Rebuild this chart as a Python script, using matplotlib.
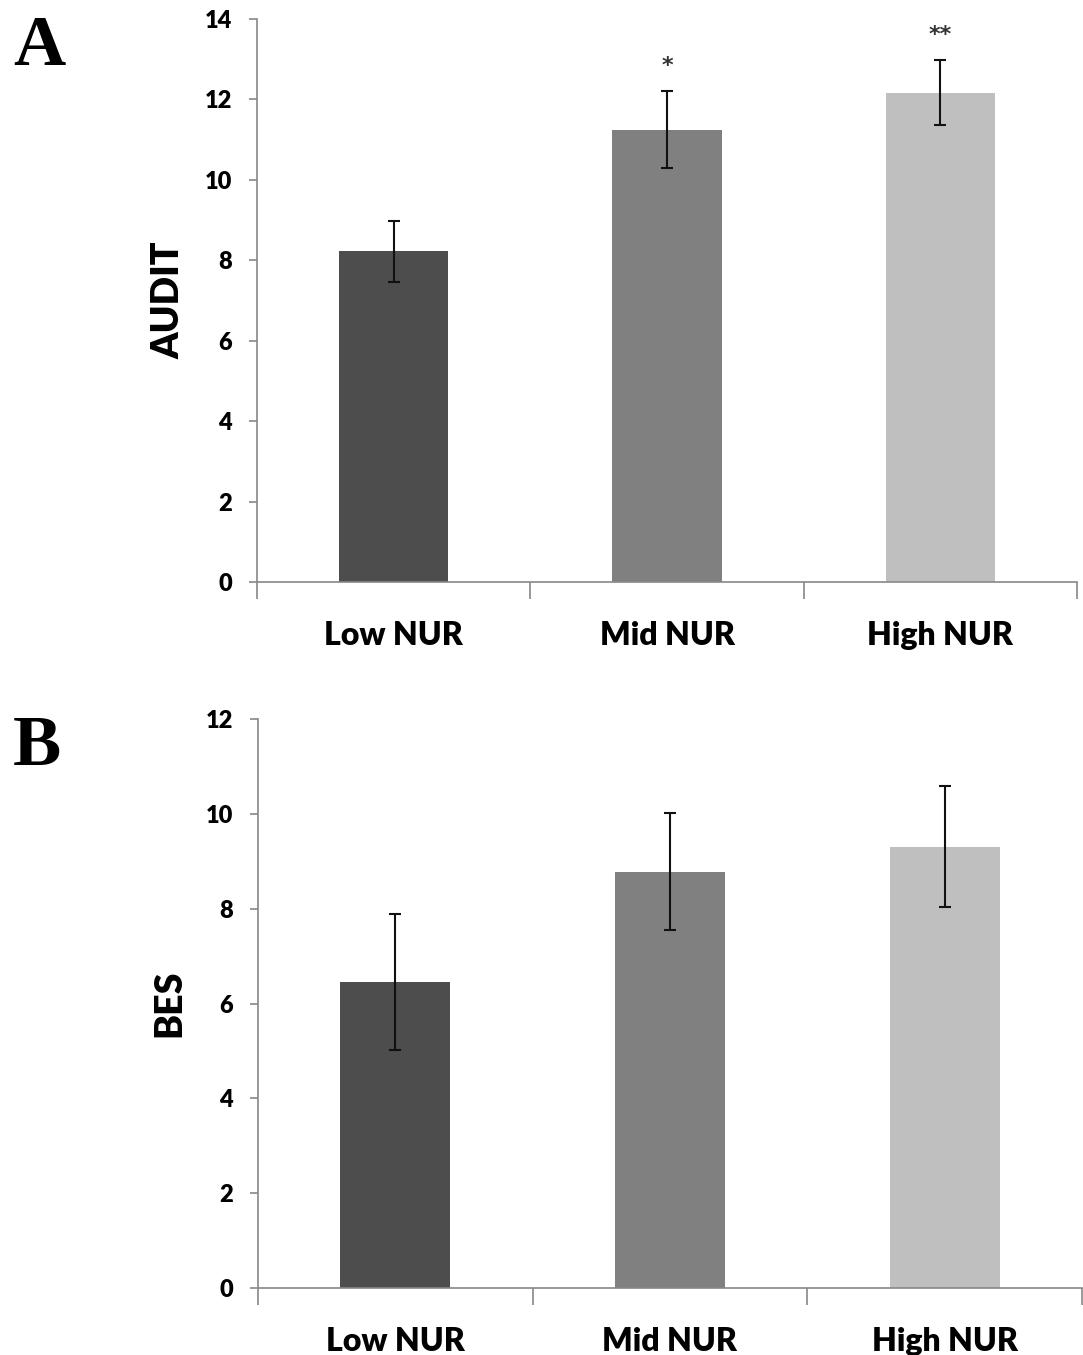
import matplotlib
matplotlib.use("Agg")
import matplotlib.pyplot as plt
import numpy as np

# valores
groups = ["Low NUR", "Mid NUR", "High NUR"]
audit_mean = [8.22, 11.25, 12.17]
audit_err = [0.76, 0.95, 0.81]
audit_sig = ["", "*", "**"]
bes_mean = [6.46, 8.78, 9.31]
bes_err = [1.43, 1.24, 1.27]
colors = ["#4d4d4d", "#808080", "#bfbfbf"]

plt.rcParams["font.family"] = ["Lato", "DejaVu Sans"]
plt.rcParams["font.weight"] = "bold"

fig = plt.figure(figsize=(10.83, 13.55), dpi=100)
axA = fig.add_axes([0.2373, 0.5705, 0.7572, 0.4155])
axB = fig.add_axes([0.2382, 0.0494, 0.7608, 0.4200])


def draw_panel(ax, means, errs, ymax, step, ylabel):
    x = np.arange(len(groups))
    ax.bar(x, means, width=0.40, color=colors, zorder=2)
    ax.errorbar(x, means, yerr=errs, fmt="none", ecolor="#111111",
                elinewidth=1.5, capsize=4, capthick=1.5, zorder=3)
    ax.set_xlim(-0.5, len(groups) - 0.5)
    ax.set_ylim(0, ymax)
    ax.set_yticks(np.arange(0, ymax + 0.1, step))
    ax.set_xticks(x)
    ax.set_xticklabels(groups, fontsize=23, fontweight="heavy")
    ax.tick_params(axis="x", length=0, pad=28)
    ax.set_xticks(np.arange(-0.5, len(groups)), minor=True)
    ax.tick_params(axis="x", which="minor", length=12, color="#888888", width=1.2)
    ax.tick_params(axis="y", length=6, color="#888888", width=1.2,
                   labelsize=17, pad=12)
    for lab in ax.get_yticklabels():
        lab.set_fontweight("heavy")
    for s in ["top", "right"]:
        ax.spines[s].set_visible(False)
    for s in ["left", "bottom"]:
        ax.spines[s].set_color("#888888")
        ax.spines[s].set_linewidth(1.2)
    ax.set_ylabel(ylabel, fontsize=27, fontweight="heavy", labelpad=14)


draw_panel(axA, audit_mean, audit_err, 14, 2, "AUDIT")
draw_panel(axB, bes_mean, bes_err, 12, 2, "BES")

# asteriscos de significancia
for i, s in enumerate(audit_sig):
    if s:
        axA.text(i, audit_mean[i] + audit_err[i] + 0.38, s, ha="center",
                 va="bottom", fontsize=16, fontweight="bold", color="#333333",
                 family="DejaVu Sans")

fig.text(0.012, 0.965, "A", fontsize=52, fontweight="bold",
         family="Liberation Serif", va="center")
fig.text(0.012, 0.448, "B", fontsize=52, fontweight="bold",
         family="Liberation Serif", va="center")

fig.savefig("out.png", dpi=100)
